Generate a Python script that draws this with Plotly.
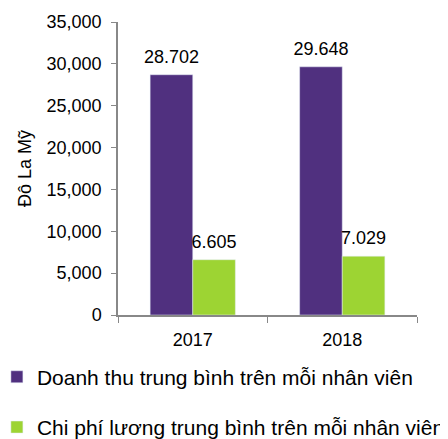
import plotly.graph_objects as go

years = ["2017", "2018"]
revenue = [28702, 29648]
salary = [6605, 7029]
series_names = ["Doanh thu trung bình trên mỗi nhân viên",
                "Chi phí lương trung bình trên mỗi nhân viên"]
colors = ["#50307F", "#9DD433"]
y_ticks = [0, 5000, 10000, 15000, 20000, 25000, 30000, 35000]

def fmt(v):
    return f"{v:,}".replace(",", ".")

FONT = "Liberation Sans, Arial, sans-serif"

fig = go.Figure()
for i, (name, vals) in enumerate(zip(series_names, [revenue, salary])):
    fig.add_trace(go.Bar(
        x=years, y=vals, name=name, marker_color=colors[i],
        legendgroup=f"g{i}", offsetgroup=f"o{i}", hoverinfo="x+y",
    ))
for i, vals in enumerate([revenue, salary]):
    fig.add_trace(go.Scatter(
        x=years, y=vals, mode="markers+text", text=[fmt(v) for v in vals],
        textposition="top center", textfont=dict(size=18, color="#000"),
        marker=dict(size=10, opacity=0), showlegend=False, hoverinfo="skip",
        offsetgroup=f"o{i}", cliponaxis=False,
    ))

fig.update_layout(
    width=440, height=431,
    margin=dict(l=110, r=31, t=14, b=124, autoexpand=False),
    barmode="group", bargap=0.43, bargroupgap=0,
    scattermode="group", scattergap=0.43,
    plot_bgcolor="white", paper_bgcolor="white",
    font=dict(family=FONT, size=17, color="#000"),
    showlegend=True,
    legend=dict(orientation="v", x=-0.405, xanchor="left", y=-0.142, yanchor="top",
                font=dict(size=21, color="#000"), tracegroupgap=20,
                itemwidth=30, traceorder="grouped"),
    xaxis=dict(showline=True, linecolor="#888", linewidth=1.5, ticks="outside",
               tickson="boundaries", ticklen=6, tickcolor="#888",
               tickfont=dict(size=18), ticklabelstandoff=8),
    yaxis=dict(range=[0, 35000], tickvals=y_ticks, tickformat=",",
               showline=True, linecolor="#888", linewidth=1.5, ticks="outside",
               ticklen=5, tickcolor="#888", showgrid=False, zeroline=False,
               tickfont=dict(size=18), ticklabelstandoff=6,
               title=dict(text="Đô La Mỹ", font=dict(size=18), standoff=10)),
)

fig.write_html("out.html")
